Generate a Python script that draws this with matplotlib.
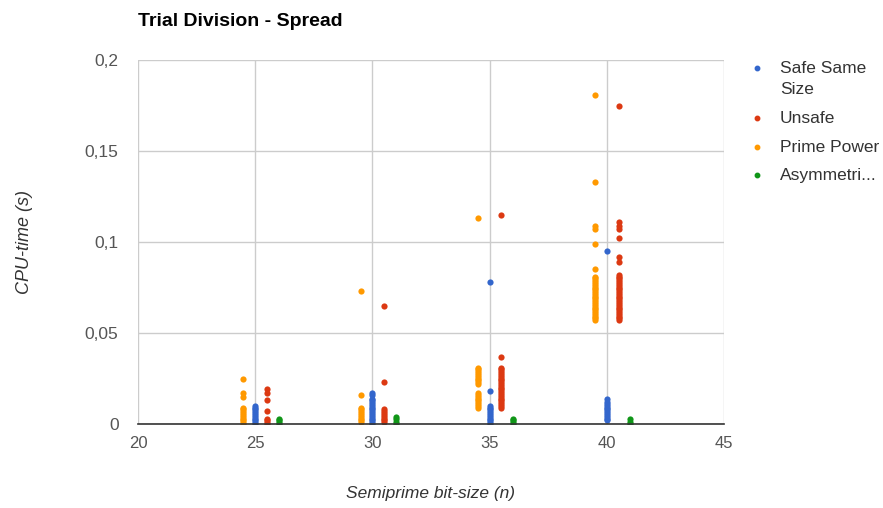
"""Scatter of CPU time spread for trial division, by semiprime type."""
import matplotlib
matplotlib.use('Agg')
import matplotlib.pyplot as plt
from matplotlib.lines import Line2D

plt.rcParams['font.family'] = ['Liberation Sans', 'DejaVu Sans']

# Bit sizes used for each series (series are shifted a bit so they don't overlap)
safe_x = [25, 30, 35, 40]
unsafe_x = [25.5, 30.5, 35.5, 40.5]
prime_power_x = [24.5, 29.5, 34.5, 39.5]
asym_x = [26, 31, 36, 41]

# CPU times (s), one list per bit size
safe_times = [
    [0.010, 0.009, 0.008, 0.007, 0.006, 0.005, 0.004, 0.003, 0.002, 0.001, 0.0],
    [0.017, 0.016, 0.014, 0.013, 0.012, 0.011, 0.010, 0.009, 0.008, 0.007,
     0.006, 0.005, 0.004, 0.003, 0.002, 0.001, 0.0],
    [0.078, 0.018, 0.010, 0.009, 0.008, 0.007, 0.006, 0.005, 0.004, 0.003,
     0.002, 0.001, 0.0],
    [0.095, 0.014, 0.012, 0.011, 0.010, 0.009, 0.008, 0.007, 0.006, 0.005,
     0.004, 0.003, 0.002],
]
unsafe_times = [
    [0.019, 0.017, 0.013, 0.007, 0.003, 0.002, 0.001, 0.0],
    [0.065, 0.023, 0.008, 0.007, 0.006, 0.005, 0.004, 0.003, 0.002, 0.001],
    [0.115, 0.037, 0.031, 0.030, 0.029, 0.028, 0.027, 0.026, 0.025, 0.024,
     0.023, 0.022, 0.021, 0.020, 0.019, 0.018, 0.017, 0.016, 0.015, 0.014,
     0.013, 0.012, 0.011, 0.010, 0.009],
    [0.175, 0.111, 0.109, 0.107, 0.102, 0.092, 0.089, 0.082, 0.081, 0.080,
     0.079, 0.078, 0.077, 0.076, 0.075, 0.074, 0.073, 0.072, 0.071, 0.070,
     0.069, 0.068, 0.067, 0.066, 0.065, 0.064, 0.063, 0.062, 0.061, 0.060,
     0.059, 0.058, 0.057],
]
prime_power_times = [
    [0.025, 0.017, 0.015, 0.009, 0.008, 0.007, 0.006, 0.005, 0.004, 0.003,
     0.002, 0.001, 0.0],
    [0.073, 0.016, 0.009, 0.008, 0.007, 0.006, 0.005, 0.004, 0.003, 0.002,
     0.001],
    [0.113, 0.031, 0.030, 0.029, 0.028, 0.027, 0.026, 0.025, 0.024, 0.023,
     0.022, 0.017, 0.016, 0.015, 0.014, 0.013, 0.012, 0.011, 0.010, 0.009],
    [0.181, 0.133, 0.109, 0.107, 0.099, 0.085, 0.081, 0.080, 0.079, 0.078,
     0.077, 0.076, 0.075, 0.074, 0.073, 0.072, 0.071, 0.070, 0.069, 0.068,
     0.067, 0.066, 0.065, 0.064, 0.063, 0.062, 0.061, 0.060, 0.059, 0.058,
     0.057],
]
asym_times = [
    [0.003, 0.002, 0.001, 0.0],
    [0.004, 0.003, 0.001, 0.0],
    [0.003, 0.002, 0.001, 0.0],
    [0.003, 0.001, 0.0],
]

series = [
    ('Safe Same\nSize', safe_x, safe_times, '#3366cc'),
    ('Unsafe', unsafe_x, unsafe_times, '#dc3912'),
    ('Prime Power', prime_power_x, prime_power_times, '#ff9900'),
    ('Asymmetri...', asym_x, asym_times, '#109618'),
]

x_ticks = [20, 25, 30, 35, 40, 45]
y_ticks = [0, 0.05, 0.1, 0.15, 0.2]
y_tick_labels = ['0', '0,05', '0,1', '0,15', '0,2']

fig = plt.figure(figsize=(8.83, 5.08), dpi=100)
ax = fig.add_axes([138 / 883, 84 / 508, 586 / 883, 364 / 508])

for name, xs, times, color in series:
    px, py = [], []
    for x, vals in zip(xs, times):
        px.extend([x] * len(vals))
        py.extend(vals)
    ax.scatter(px, py, s=20, color=color, linewidths=0, zorder=3)

ax.set_xlim(20, 45)
ax.set_ylim(0, 0.2)
ax.set_xticks(x_ticks)
ax.set_yticks(y_ticks)
ax.set_yticklabels(y_tick_labels)
ax.tick_params(length=0, labelsize=12, colors='#555555')
ax.tick_params(axis='y', pad=14, labelsize=12.5)
ax.tick_params(axis='x', pad=9)
ax.grid(True, color='#cccccc', linewidth=1)
ax.set_axisbelow(True)
for side in ['top', 'right', 'left']:
    ax.spines[side].set_visible(False)
ax.spines['bottom'].set_color('#333333')
ax.spines['bottom'].set_linewidth(1.2)
ax.spines['bottom'].set_zorder(4)

ax.set_xlabel('Semiprime bit-size (n)', fontsize=12.5, style='italic',
              color='#333333', labelpad=25)
ax.set_ylabel('CPU-time (s)', fontsize=13, style='italic',
              color='#333333', labelpad=37)

fig.text(138 / 883, 1 - 21 / 508, 'Trial Division - Spread', fontsize=14,
         fontweight='bold', va='center', ha='left')

# Hand-made legend on the right
legend_y = [68, 118, 147, 175]
for (name, _, _, color), ly in zip(series, legend_y):
    fig.add_artist(Line2D([757 / 883], [1 - ly / 508], marker='o',
                          markersize=3.2, color=color, linestyle='none',
                          transform=fig.transFigure))
    fig.text(780 / 883, 1 - (ly - 7) / 508, name, fontsize=12.5, va='top',
             ha='left', color='#333333', linespacing=1.5)

fig.savefig('out.png', dpi=100)
